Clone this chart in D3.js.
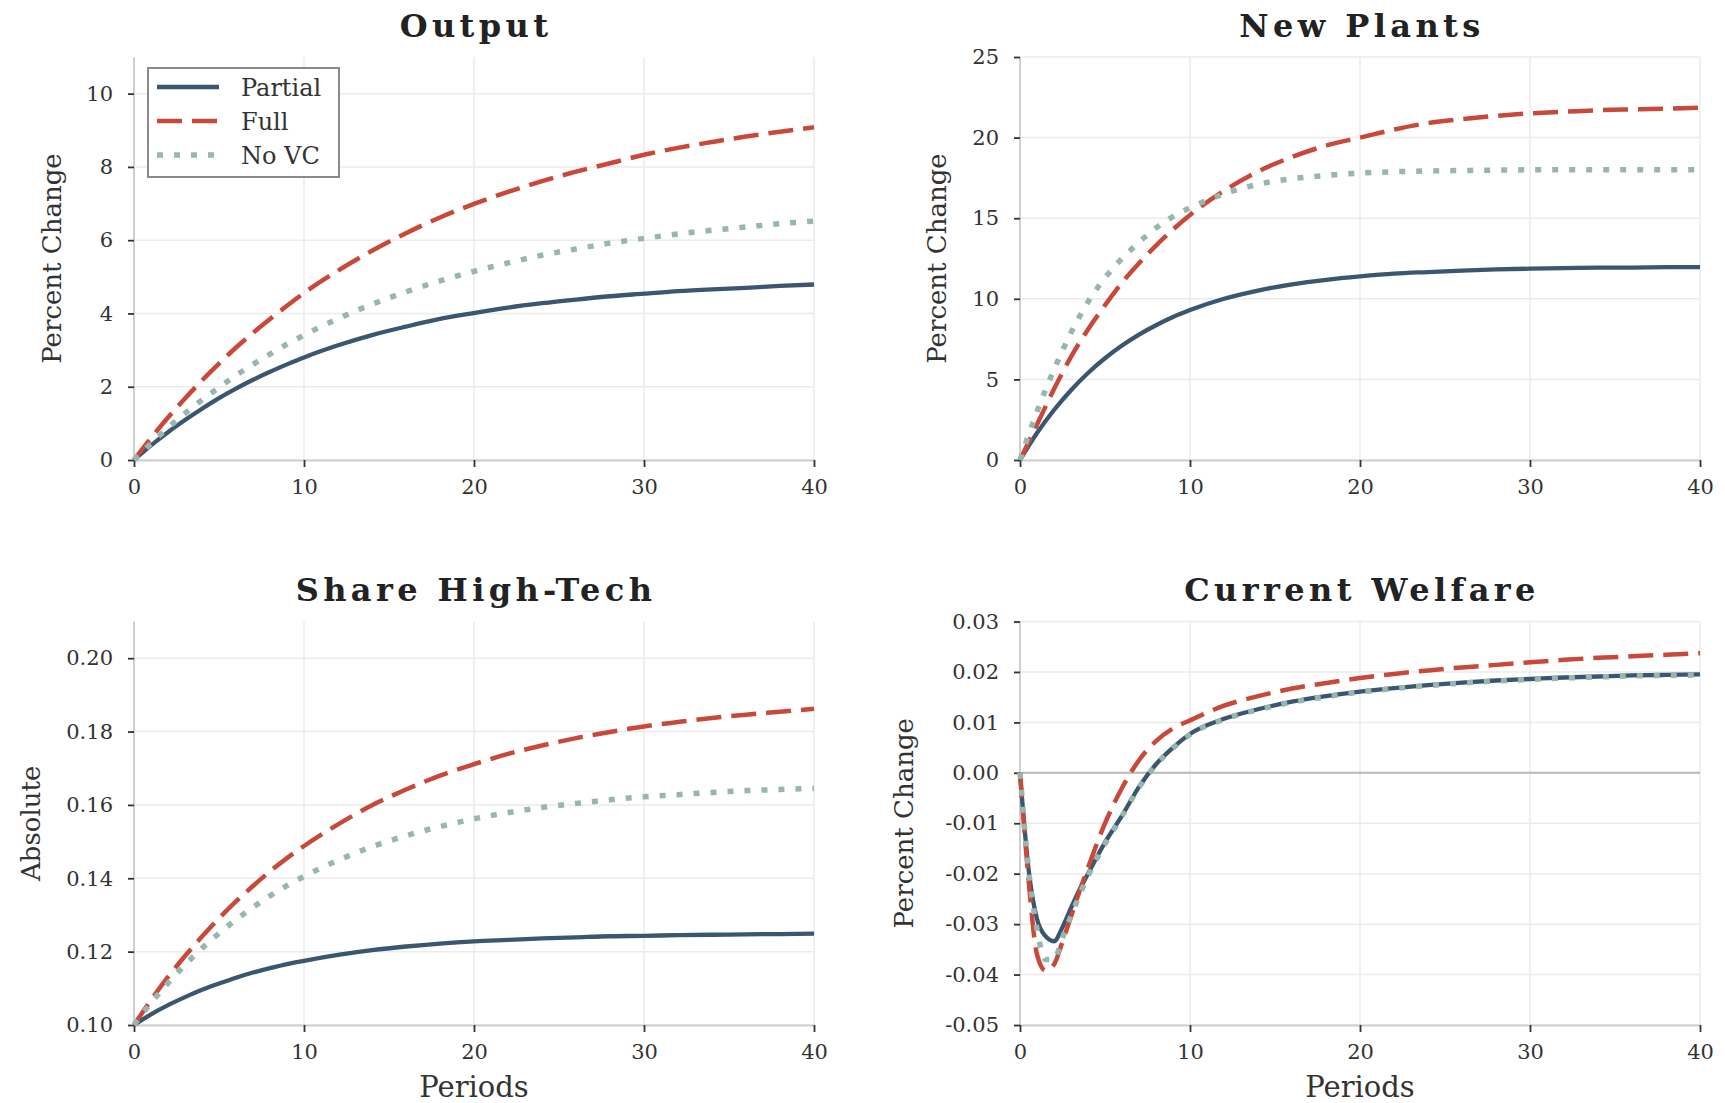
<!DOCTYPE html>
<html><head><meta charset="utf-8">
<script src="https://cdn.jsdelivr.net/npm/d3@7"></script>
<style>body{margin:0;background:#fff} svg{display:block}</style>
</head><body>
<svg id="chart" width="1725" height="1103"></svg>
<script>
// ---------- data ----------
const periods = [0,1,2,3,4,5,6,7,8,9,10,12,14,16,18,20,22,24,26,28,30,32,34,36,38,40];
const periodsWelfare = [0,0.5,1,1.5,2,2.5,3,3.5,4,5,6,7,8,9,10,12,14,16,18,20,22,24,26,28,30,32,34,36,38,40];
const seriesNames = ["Partial", "Full", "No VC"];

const outputPartial = [0,0.40,0.76,1.09,1.40,1.69,1.95,2.19,2.41,2.61,2.80,3.13,3.41,3.64,3.85,4.01,4.16,4.28,4.38,4.47,4.54,4.61,4.66,4.70,4.75,4.79];
const outputFull    = [0,0.60,1.16,1.68,2.17,2.63,3.07,3.47,3.85,4.21,4.56,5.17,5.71,6.19,6.62,6.99,7.32,7.61,7.87,8.10,8.33,8.52,8.68,8.83,8.96,9.08];
const outputNoVC    = [0,0.45,0.88,1.27,1.64,1.98,2.31,2.61,2.89,3.16,3.41,3.86,4.25,4.59,4.89,5.15,5.38,5.59,5.76,5.92,6.05,6.17,6.27,6.36,6.45,6.52];

const plantsPartial = [0,1.67,3.10,4.33,5.40,6.31,7.10,7.78,8.36,8.87,9.30,10.00,10.51,10.90,11.18,11.39,11.56,11.66,11.75,11.82,11.87,11.90,11.93,11.94,11.96,11.97];
const plantsFull    = [0,2.2,4.4,6.4,8.1,9.6,11.0,12.2,13.3,14.3,15.2,16.7,17.9,18.8,19.5,20.0,20.5,20.9,21.15,21.35,21.5,21.6,21.7,21.75,21.8,21.85];
const plantsNoVC    = [0,3.0,5.6,7.9,9.8,11.3,12.5,13.5,14.4,15.1,15.65,16.5,17.1,17.45,17.65,17.8,17.88,17.93,17.96,17.98,18.0,18.0,18.0,18.0,18.0,18.0];

const sharePartial = [0.1,0.1029,0.1054,0.1076,0.1096,0.1113,0.1129,0.1143,0.1155,0.1166,0.1175,0.1191,0.1204,0.1214,0.1222,0.1228,0.1232,0.1236,0.1239,0.1242,0.1243,0.1245,0.1246,0.1247,0.1248,0.1249];
const shareFull    = [0.1,0.1068,0.1131,0.1188,0.1241,0.1291,0.1337,0.1379,0.1419,0.1455,0.1488,0.1547,0.1599,0.1642,0.1680,0.1711,0.1739,0.1762,0.1782,0.1799,0.1814,0.1826,0.1837,0.1846,0.1854,0.1862];
const shareNoVC    = [0.1,0.1060,0.1114,0.1164,0.1209,0.1250,0.1287,0.1321,0.1352,0.1380,0.1405,0.1449,0.1486,0.1516,0.1541,0.1562,0.1579,0.1593,0.1604,0.1614,0.1622,0.1628,0.1634,0.1639,0.1642,0.1645];

const welfarePartial = [0,-0.019,-0.029,-0.0324,-0.0334,-0.0306,-0.0268,-0.0232,-0.0200,-0.0138,-0.0085,-0.0028,0.0017,0.0050,0.0077,0.0107,0.0126,0.0141,0.0152,0.0161,0.0168,0.0174,0.0179,0.0183,0.0186,0.0189,0.0191,0.0193,0.0194,0.0195];
const welfareFull    = [0,-0.021,-0.036,-0.0392,-0.0380,-0.0335,-0.0285,-0.0235,-0.0188,-0.0100,-0.0030,0.0025,0.0063,0.0088,0.0104,0.0133,0.0152,0.0167,0.0178,0.0188,0.0196,0.0203,0.0209,0.0214,0.0219,0.0224,0.0228,0.0231,0.0234,0.0237];
const welfareNoVC    = [0,-0.019,-0.031,-0.0370,-0.0370,-0.0327,-0.0284,-0.0243,-0.0205,-0.0141,-0.0086,-0.0029,0.0016,0.0049,0.0076,0.0106,0.0125,0.0140,0.0151,0.0160,0.0167,0.0173,0.0178,0.0182,0.0185,0.0188,0.0190,0.0192,0.0193,0.0194];

const xTicks = [0,10,20,30,40];
const xTickLabels = ["0","10","20","30","40"];
const outputYTicks = [0,2,4,6,8,10];
const outputYLabels = ["0","2","4","6","8","10"];
const plantsYTicks = [0,5,10,15,20,25];
const plantsYLabels = ["0","5","10","15","20","25"];
const shareYTicks = [0.10,0.12,0.14,0.16,0.18,0.20];
const shareYLabels = ["0.10","0.12","0.14","0.16","0.18","0.20"];
const welfareYTicks = [-0.05,-0.04,-0.03,-0.02,-0.01,0.00,0.01,0.02,0.03];
const welfareYLabels = ["-0.05","-0.04","-0.03","-0.02","-0.01","0.00","0.01","0.02","0.03"];

// ---------- layout / style ----------
const FONT = "'DejaVu Serif', 'Liberation Serif', serif";
const styles = [
  {color:"#3a5671", width:4.3, dash:null},
  {color:"#c8483a", width:4.5, dash:"25,10"},
  {color:"#98b6ae", width:5.5, dash:"6,11"}
];
const cols = [{x0:134, x1:814, ylab:61}, {x0:1020, x1:1700, ylab:946}];
const rows = [{y0:57, y1:460, title:37}, {y0:621.5, y1:1025, title:601}];

const panels = [
  {title:"Output", ylabel:"Percent Change", col:0, row:0, dom:[0,11], yt:outputYTicks, yl:outputYLabels,
   xs:periods, series:[outputPartial, outputFull, outputNoVC], legend:true},
  {title:"New Plants", ylabel:"Percent Change", col:1, row:0, dom:[0,25], yt:plantsYTicks, yl:plantsYLabels,
   xs:periods, series:[plantsPartial, plantsFull, plantsNoVC]},
  {title:"Share High-Tech", ylabel:"Absolute", col:0, row:1, dom:[0.10,0.21], yt:shareYTicks, yl:shareYLabels,
   xs:periods, series:[sharePartial, shareFull, shareNoVC], xlabel:"Periods", ylabX:40},
  {title:"Current Welfare", ylabel:"Percent Change", col:1, row:1, dom:[-0.05,0.03], yt:welfareYTicks, yl:welfareYLabels,
   xs:periodsWelfare, series:[welfarePartial, welfareFull, welfareNoVC], xlabel:"Periods", zero:true, ylabX:913}
];

const svg = d3.select("#chart");
svg.append("rect").attr("width",1725).attr("height",1103).attr("fill","#fff");

panels.forEach(p => {
  const c = cols[p.col], r = rows[p.row];
  const x = d3.scaleLinear().domain([0,40]).range([c.x0, c.x1]);
  const y = d3.scaleLinear().domain(p.dom).range([r.y1, r.y0]);
  const g = svg.append("g");

  // grid
  g.selectAll(".gy").data(p.yt).join("line")
    .attr("x1", c.x0).attr("x2", c.x1).attr("y1", d=>y(d)).attr("y2", d=>y(d))
    .attr("stroke", "#ebebeb").attr("stroke-width", 1.5);
  g.selectAll(".gx").data(xTicks).join("line")
    .attr("x1", d=>x(d)).attr("x2", d=>x(d)).attr("y1", r.y0).attr("y2", r.y1)
    .attr("stroke", "#ebebeb").attr("stroke-width", 1.5);

  if (p.zero) {
    g.append("line").attr("x1", c.x0).attr("x2", c.x1).attr("y1", y(0)).attr("y2", y(0))
      .attr("stroke", "#b8b8b8").attr("stroke-width", 2);
  }

  // axes
  const ax = g.append("g").attr("transform", `translate(0,${r.y1})`)
    .call(d3.axisBottom(x).tickValues(xTicks).tickFormat((d,i)=>xTickLabels[i]).tickSize(7).tickPadding(12).tickSizeOuter(0));
  const ay = g.append("g").attr("transform", `translate(${c.x0},0)`)
    .call(d3.axisLeft(y).tickValues(p.yt).tickFormat((d,i)=>p.yl[i]).tickSize(6).tickPadding(15).tickSizeOuter(0));
  [ax, ay].forEach(a => {
    a.select(".domain").attr("stroke", "#cfcfcf").attr("stroke-width", 2);
    a.selectAll(".tick line").attr("stroke", "#333").attr("stroke-width", 1.8);
    a.selectAll(".tick text").attr("font-family", FONT).attr("font-size", 21).attr("fill", "#333");
  });
  ay.select(".domain").attr("d", `M0,${r.y1}V${r.y0}`);

  // lines
  const line = d3.line().x((d,i)=>x(p.xs[i])).y(d=>y(d)).curve(d3.curveMonotoneX);
  p.series.forEach((s, k) => {
    const st = styles[k];
    g.append("path").datum(s).attr("d", line).attr("fill", "none")
      .attr("stroke", st.color).attr("stroke-width", st.width)
      .attr("stroke-dasharray", st.dash).attr("stroke-linejoin", "round");
  });

  // title
  g.append("text").attr("x", (c.x0+c.x1)/2 + 2).attr("y", r.title)
    .attr("text-anchor", "middle").attr("font-family", FONT).attr("font-weight", "bold")
    .attr("font-size", 32).attr("letter-spacing", "4.4px").attr("fill", "#222").text(p.title);

  // y label
  const yx = p.ylabX || c.ylab;
  g.append("text").attr("transform", `translate(${yx},${(r.y0+r.y1)/2}) rotate(-90)`)
    .attr("text-anchor", "middle").attr("font-family", FONT).attr("font-size", 26)
    .attr("fill", "#333").text(p.ylabel);

  if (p.xlabel) {
    g.append("text").attr("x", (c.x0+c.x1)/2).attr("y", 1097)
      .attr("text-anchor", "middle").attr("font-family", FONT).attr("font-size", 29)
      .attr("fill", "#333").text(p.xlabel);
  }

  if (p.legend) {
    const lg = g.append("g");
    lg.append("rect").attr("x", 148).attr("y", 68).attr("width", 191).attr("height", 109)
      .attr("fill", "#fff").attr("stroke", "#8a8a8a").attr("stroke-width", 2);
    const rowsY = [87, 121, 155];
    seriesNames.forEach((n, k) => {
      const st = styles[k];
      lg.append("line").attr("x1", 157).attr("x2", 219).attr("y1", rowsY[k]).attr("y2", rowsY[k])
        .attr("stroke", st.color).attr("stroke-width", st.width).attr("stroke-dasharray", st.dash);
      lg.append("text").attr("x", 241).attr("y", rowsY[k] + 8.5)
        .attr("font-family", FONT).attr("font-size", 24).attr("fill", "#333").text(n);
    });
  }
});
</script>
</body></html>
